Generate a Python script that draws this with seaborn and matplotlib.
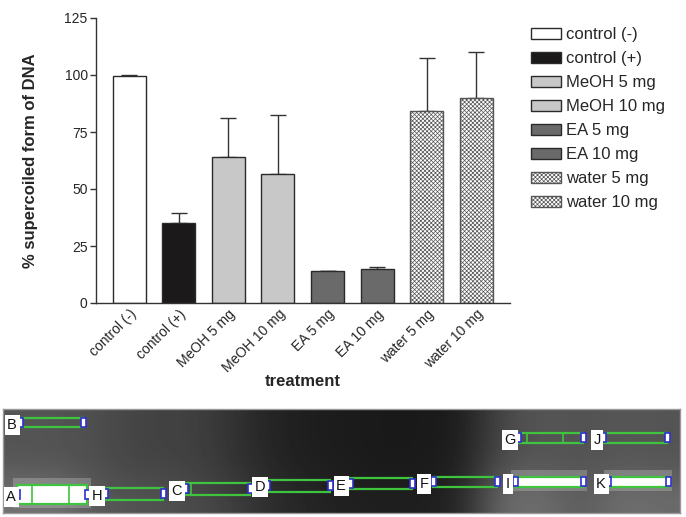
import numpy as np
import pandas as pd
import matplotlib
matplotlib.use('Agg')
import matplotlib.pyplot as plt
from matplotlib.patches import Rectangle
import seaborn as sns

# bar chart data
treatments = ['control (-)', 'control (+)', 'MeOH 5 mg', 'MeOH 10 mg',
              'EA 5 mg', 'EA 10 mg', 'water 5 mg', 'water 10 mg']
supercoiled = [99.4, 35.1, 63.9, 56.4, 14.0, 14.8, 84.2, 90.0]
upper_err = [0.4, 4.2, 17.4, 26.2, 0.2, 0.8, 23.4, 20.1]
bar_colors = ['#ffffff', '#1b191a', '#c8c8c8', '#c8c8c8',
              '#6a6a6a', '#6a6a6a', '#ffffff', '#ffffff']
hatched = ['water 5 mg', 'water 10 mg']

# gel photo (lane boxes)
gel_labels = ['A', 'B', 'C', 'D', 'E', 'F', 'G', 'H', 'I', 'J', 'K']
gel_box_x = [(17, 87), (20, 83), (185, 250), (267, 330), (350, 412), (433, 497),
             (518, 583), (105, 163), (515, 583), (603, 667), (608, 668)]
gel_box_y = [(485, 504), (418, 427), (483, 495), (480, 492), (478, 489), (477, 487),
             (433, 443), (488, 500), (477, 487), (433, 443), (477, 487)]
gel_bright = ['A', 'I', 'K']
gel_dividers = {'A': [32, 69], 'C': [191], 'G': [527, 563]}
gel_label_pos = [(11, 497), (12, 425), (177, 491), (260, 487), (341, 486), (424, 484),
                 (510, 440), (97, 496), (508, 484), (597, 440), (601, 484)]
gel_shade = [
    [0.33, 0.33, 0.30, 0.26, 0.26, 0.22, 0.15, 0.12, 0.11, 0.10, 0.10, 0.11, 0.28, 0.34, 0.32, 0.34, 0.33],
    [0.33, 0.32, 0.30, 0.26, 0.26, 0.22, 0.16, 0.12, 0.11, 0.10, 0.10, 0.12, 0.30, 0.34, 0.32, 0.34, 0.33],
    [0.45, 0.45, 0.33, 0.33, 0.30, 0.27, 0.19, 0.15, 0.13, 0.12, 0.12, 0.14, 0.42, 0.44, 0.35, 0.44, 0.42],
]

sns.set_style('ticks')
plt.rcParams['font.family'] = ['Liberation Sans', 'DejaVu Sans']
plt.rcParams['hatch.linewidth'] = 0.5

df = pd.DataFrame({'treatment': treatments, 'value': supercoiled})

fig = plt.figure(figsize=(6.86, 5.17), dpi=100)
ax = fig.add_axes([96 / 686, 1 - 303 / 517, 414 / 686, 285 / 517])

sns.barplot(data=df, x='treatment', y='value', hue='treatment',
            palette=bar_colors, order=treatments, hue_order=treatments,
            width=0.665, edgecolor='#2a2a2a', linewidth=1, legend=False,
            errorbar=None, ax=ax, zorder=2)

handles = []
for cont, name in zip(ax.containers, treatments):
    for p in cont:
        if name in hatched:
            p.set_hatch('xxxxxxxx')
            p.set_edgecolor('#555555')
        handles.append(p)

ax.errorbar(np.arange(len(treatments)), supercoiled,
            yerr=[np.zeros(len(treatments)), upper_err],
            fmt='none', ecolor='#333333', elinewidth=1, capsize=6, capthick=1, zorder=1)

ax.set_xlim(-0.67, 7.68)
ax.set_ylim(0, 125)
ax.set_yticks([0, 25, 50, 75, 100, 125])
sns.despine(ax=ax)
for s in ['left', 'bottom']:
    ax.spines[s].set_color('#333333')
    ax.spines[s].set_linewidth(1)
ax.tick_params(axis='y', length=4, width=1, color='#333333', labelsize=10, pad=2)
ax.tick_params(axis='x', length=0, labelsize=10, pad=3)
plt.setp(ax.get_xticklabels(), rotation=45, ha='right', rotation_mode='anchor')

ax.set_ylabel('% supercoiled form of DNA', fontsize=12, fontweight='bold')
ax.yaxis.set_label_coords(-0.14, 0.5)
ax.set_xlabel('treatment', fontsize=12, fontweight='bold')
ax.xaxis.set_label_coords(0.5, -0.25)

fig.legend(handles, treatments, loc='upper left', bbox_to_anchor=(531 / 686, 0.947),
           frameon=False, fontsize=12, handlelength=1.8, handleheight=0.6,
           handletextpad=0.3, labelspacing=0.54, borderpad=0, borderaxespad=0)

# gel image panel
gax = fig.add_axes([3 / 686, 4 / 517, 677 / 686, 104 / 517])
gax.imshow(np.array(gel_shade), cmap='gray', vmin=0, vmax=1, aspect='auto',
           interpolation='bicubic', extent=(3, 680, 513, 409))
for lab, (x0, x1), (y0, y1) in zip(gel_labels, gel_box_x, gel_box_y):
    if lab in gel_bright:
        gax.add_patch(Rectangle((x0 - 4, y0 - 7), x1 - x0 + 8, y1 - y0 + 11,
                                facecolor='white', alpha=0.22, edgecolor='none'))
        gax.add_patch(Rectangle((x0, y0), x1 - x0, y1 - y0, facecolor='white',
                                edgecolor='#3ec43e', linewidth=1.6))
    else:
        gax.add_patch(Rectangle((x0, y0), x1 - x0, y1 - y0, facecolor='none',
                                edgecolor='#3ec43e', linewidth=1.6))
    for dx in gel_dividers.get(lab, []):
        gax.plot([dx, dx], [y0, y1], color='#3ec43e', linewidth=1.2)
    for hx in (x0, x1):
        gax.add_patch(Rectangle((hx - 2.5, (y0 + y1) / 2 - 4.5), 5, 9, facecolor='white',
                                edgecolor='#3030d0', linewidth=1.2))
for lab, (tx, ty) in zip(gel_labels, gel_label_pos):
    gax.text(tx, ty, lab, fontsize=10.5, ha='center', va='center', color='#111111',
             bbox=dict(boxstyle='square,pad=0.18', facecolor='white', edgecolor='none'))
gax.set_xlim(3, 680)
gax.set_ylim(513, 409)
gax.set_xticks([])
gax.set_yticks([])
for s in gax.spines.values():
    s.set_color('#999999')
    s.set_linewidth(1)

fig.savefig('out.png', dpi=100)
